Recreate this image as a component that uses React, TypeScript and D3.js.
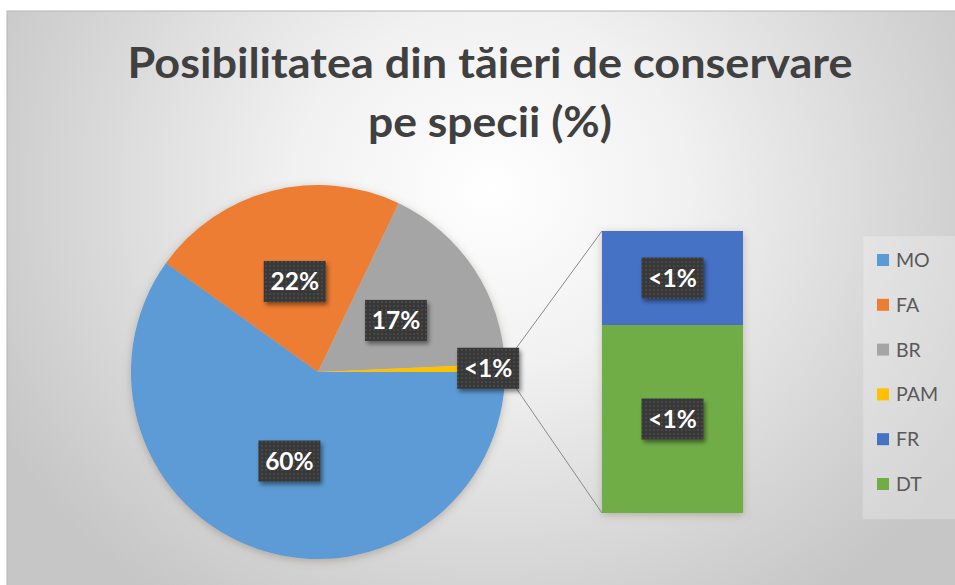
import React from "react";
import * as d3 from "d3";

const titleLines = ["Posibilitatea din tăieri de conservare", "pe specii (%)"];
const pieCategories = ["MO", "FA", "BR", "PAM"];
const pieValues = [59.9, 22.2, 17.2, 0.7];
const barCategories = ["FR", "DT"];
const barValues = [0.1, 0.2];
const legendCategories = ["MO", "FA", "BR", "PAM", "FR", "DT"];
const palette = ["#5B9BD5", "#ED7D31", "#A5A5A5", "#FFC000", "#4472C4", "#70AD47"];

const W = 955;
const H = 585;

export default function App() {
  const total = d3.sum(pieValues) + d3.sum(barValues);
  const fmt = (v: number) => {
    const p = (v / total) * 100;
    return p < 1 ? "<1%" : `${Math.round(p)}%`;
  };
  const color = d3.scaleOrdinal<string, string>().domain(legendCategories).range(palette);

  const cx = 318, cy = 372, R = 187;
  const pie = d3
    .pie<number>()
    .sort(null)
    .startAngle(Math.PI / 2)
    .endAngle(Math.PI / 2 + 2 * Math.PI);
  const arcs = pie(pieValues);
  const arcGen = d3.arc<d3.PieArcDatum<number>>().innerRadius(0).outerRadius(R);

  // bar of pie
  const barX0 = 602, barX1 = 743, barTop = 231, barBottom = 513;
  const barSum = d3.sum(barValues);
  const y = d3.scaleLinear().domain([0, barSum]).range([barBottom, barTop]);
  const segs: { cat: string; v: number; y0: number; y1: number }[] = [];
  let acc = 0;
  for (let i = barValues.length - 1; i >= 0; i--) {
    segs.push({ cat: barCategories[i], v: barValues[i], y0: acc, y1: acc + barValues[i] });
    acc += barValues[i];
  }

  const other = arcs[arcs.length - 1];
  const pt = (a: number, r: number) => [cx + r * Math.sin(a), cy - r * Math.cos(a)];
  const pUp = pt(other.startAngle, R);
  const pDown = pt(other.endAngle, R);

  const labelW = 62, labelH = 41;
  const labels: { x: number; y: number; t: string }[] = [];
  arcs.forEach((a, i) => {
    if (i === arcs.length - 1) {
      const m = (a.startAngle + a.endAngle) / 2;
      const [lx, ly] = pt(m, R * 0.91);
      labels.push({ x: lx, y: ly, t: fmt(a.data) });
    } else {
      const [lx, ly] = arcGen.centroid(a);
      labels.push({ x: cx + lx, y: cy + ly, t: fmt(a.data) });
    }
  });
  segs.forEach((s) => {
    labels.push({ x: (barX0 + barX1) / 2, y: (y(s.y0) + y(s.y1)) / 2, t: fmt(s.v) });
  });

  const legendY = d3.scalePoint().domain(legendCategories).range([260, 484]);

  return (
    <svg
      width={W}
      height={H}
      style={{ position: "absolute", left: 0, top: 0, fontFamily: "Lato, 'Open Sans', sans-serif" }}
    >
      <defs>
        <radialGradient id="bg" gradientUnits="userSpaceOnUse" cx={490} cy={190} r={560}
          gradientTransform="translate(490 190) scale(1 0.9) translate(-490 -190)">
          <stop offset="0" stopColor="#ffffff" />
          <stop offset="0.35" stopColor="#f1f1f1" />
          <stop offset="0.75" stopColor="#d6d6d6" />
          <stop offset="1" stopColor="#c6c6c6" />
        </radialGradient>
        <pattern id="dots" width={4} height={4} patternUnits="userSpaceOnUse">
          <rect width={4} height={4} fill="#383838" />
          <circle cx={2} cy={2} r={0.8} fill="#575757" />
        </pattern>
        <filter id="pieShadow" x="-20%" y="-20%" width="140%" height="140%">
          <feDropShadow dx={0} dy={2} stdDeviation={4} floodColor="#6b5a40" floodOpacity={0.35} />
        </filter>
        <filter id="lblShadow" x="-30%" y="-30%" width="160%" height="170%">
          <feDropShadow dx={2} dy={3} stdDeviation={2} floodColor="#000" floodOpacity={0.45} />
        </filter>
      </defs>

      <rect x={0} y={0} width={W} height={H} fill="#ffffff" />
      <rect x={7} y={11} width={W + 10} height={H} fill="url(#bg)" stroke="#b5b5b5" strokeWidth={1} />

      {/* title */}
      <g fill="#404040" fontWeight={700} textAnchor="middle">
        <text x={490} y={78} fontSize={42} textLength={725} lengthAdjust="spacingAndGlyphs">
          {titleLines[0]}
        </text>
        <text x={490} y={137} fontSize={42} textLength={244} lengthAdjust="spacingAndGlyphs">
          {titleLines[1]}
        </text>
      </g>

      {/* pie */}
      <g transform={`translate(${cx},${cy})`} filter="url(#pieShadow)">
        {arcs.map((a, i) => (
          <path key={pieCategories[i]} d={arcGen(a) || ""} fill={color(pieCategories[i])} />
        ))}
      </g>

      {/* connectors */}
      <g stroke="#8a8a8a" strokeWidth={1}>
        <line x1={pUp[0]} y1={pUp[1]} x2={barX0} y2={barTop} />
        <line x1={pDown[0]} y1={pDown[1]} x2={barX0} y2={barBottom} />
      </g>

      {/* bar */}
      <g filter="url(#pieShadow)">
        {segs.map((s) => (
          <rect
            key={s.cat}
            x={barX0}
            width={barX1 - barX0}
            y={y(s.y1)}
            height={y(s.y0) - y(s.y1)}
            fill={color(s.cat)}
          />
        ))}
      </g>

      {/* labels */}
      {labels.map((l, i) => (
        <g key={i}>
          <rect
            x={l.x - labelW / 2}
            y={l.y - labelH / 2}
            width={labelW}
            height={labelH}
            fill="url(#dots)"
            filter="url(#lblShadow)"
          />
          <text x={l.x} y={l.y + 8.5} textAnchor="middle" fill="#ffffff" fontSize={24.5} fontWeight={700}>
            {l.t}
          </text>
        </g>
      ))}

      {/* legend */}
      <rect x={863} y={236} width={110} height={283} fill="#ffffff" fillOpacity={0.25} stroke="#d6d6d6" strokeWidth={0.5} />
      {legendCategories.map((c) => (
        <g key={c} transform={`translate(0,${legendY(c)})`}>
          <rect x={877} y={-6} width={12} height={12} fill={color(c)} />
          <text x={896} y={7} fontSize={19.5} fill="#595959">
            {c}
          </text>
        </g>
      ))}
    </svg>
  );
}
